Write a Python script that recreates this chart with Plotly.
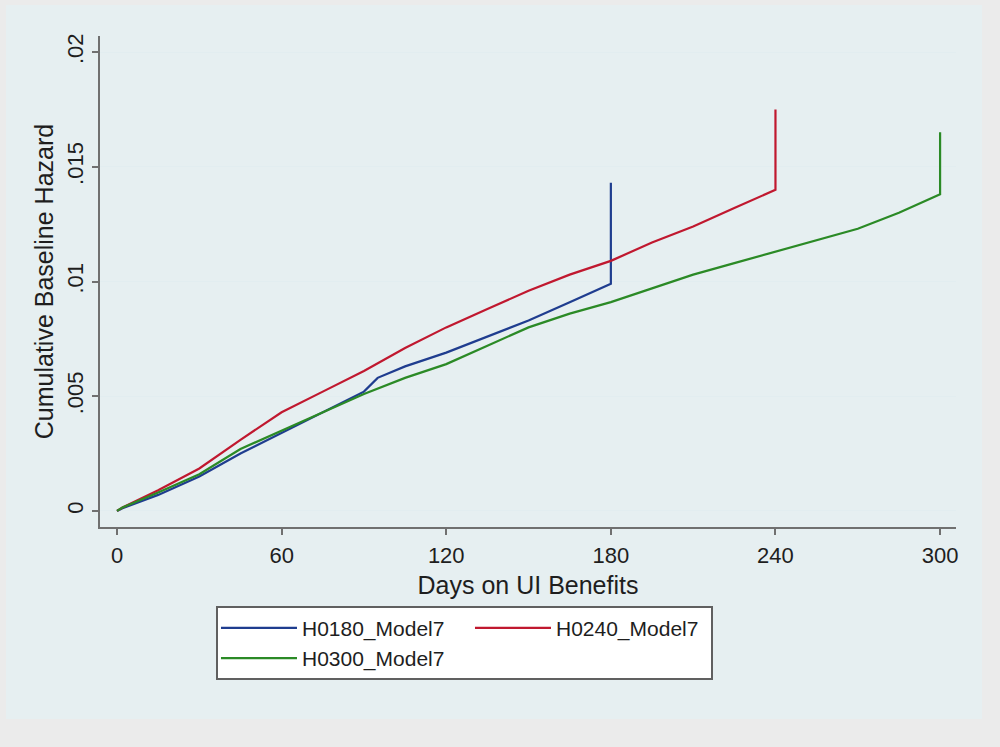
import plotly.graph_objects as go

# Cumulative baseline hazard by days on UI benefits, one curve per model
days_h0180 = [0, 2, 15, 30, 45, 60, 75, 90, 95, 105, 120, 135, 150, 165, 180, 180]
haz_h0180 = [0, 0.00012, 0.0007, 0.0015, 0.0025, 0.0034, 0.0043, 0.0052, 0.0058,
             0.0063, 0.0069, 0.0076, 0.0083, 0.0091, 0.0099, 0.0143]

days_h0240 = [0, 2, 15, 30, 45, 60, 75, 90, 105, 120, 135, 150, 165, 180, 195,
              210, 225, 240, 240]
haz_h0240 = [0, 0.00015, 0.0009, 0.00185, 0.0031, 0.0043, 0.0052, 0.0061, 0.0071,
             0.0080, 0.0088, 0.0096, 0.0103, 0.0109, 0.0117, 0.0124, 0.0132,
             0.0140, 0.0175]

days_h0300 = [0, 2, 15, 30, 45, 60, 75, 90, 105, 120, 135, 150, 165, 180, 195,
              210, 225, 240, 255, 270, 285, 300, 300]
haz_h0300 = [0, 0.00015, 0.0008, 0.0016, 0.0027, 0.0035, 0.0043, 0.0051, 0.0058,
             0.0064, 0.0072, 0.0080, 0.0086, 0.0091, 0.0097, 0.0103, 0.0108,
             0.0113, 0.0118, 0.0123, 0.0130, 0.0138, 0.0165]

series_names = ["H0180_Model7", "H0240_Model7", "H0300_Model7"]
series_colors = ["#1f3d8f", "#c0182f", "#2b8a26"]
# legend groups lay the entries out in two columns: 0180 over 0300, then 0240
series_groups = ["col1", "col2", "col1"]
legend_entry_widths = [163, 150, 163]

x_ticks = [0, 60, 120, 180, 240, 300]
y_ticks = [0, 0.005, 0.01, 0.015, 0.02]
y_tick_labels = ["0", ".005", ".01", ".015", ".02"]

fig = go.Figure()
for name, xs, ys, color, grp, lw in zip(series_names,
                                         [days_h0180, days_h0240, days_h0300],
                                         [haz_h0180, haz_h0240, haz_h0300],
                                         series_colors, series_groups,
                                         legend_entry_widths):
    fig.add_trace(go.Scatter(
        x=xs, y=ys, mode="lines", name=name, legendgroup=grp,
        legendwidth=lw,
        line=dict(color=color, width=2.2),
    ))

font_family = "Liberation Sans, Arial, sans-serif"
axis_grey = "#707070"

fig.update_layout(
    width=1000, height=747, autosize=False,
    margin=dict(l=100, r=44, t=36, b=220),
    paper_bgcolor="#ebebeb",
    plot_bgcolor="#ffffff",
    font=dict(family=font_family, color="#1e1e1e"),
    showlegend=True,
    legend=dict(
        orientation="h", traceorder="grouped",
        x=0.1355, y=-0.161, xanchor="left", yanchor="top",
        bgcolor="#ffffff", bordercolor="#606060", borderwidth=1.6,
        font=dict(size=21, family=font_family, color="#1e1e1e"),
        itemwidth=76, tracegroupgap=0,
    ),
    shapes=[dict(
        type="rect", xref="paper", yref="paper", layer="below",
        x0=-0.1098, x1=1.0304, y0=-0.391, y1=1.063,
        fillcolor="#e6eff1", line=dict(width=0),
    )],
)

fig.update_xaxes(
    range=[-6.2, 305.8], tickvals=x_ticks,
    ticks="outside", ticklen=6, tickwidth=1.5, tickcolor=axis_grey,
    showline=True, linecolor=axis_grey, linewidth=1.5,
    showgrid=False, zeroline=False,
    ticklabelstandoff=2,
    tickfont=dict(size=22, color="#1e1e1e"),
    title=dict(text="Days on UI Benefits", font=dict(size=25), standoff=9),
)
fig.update_yaxes(
    range=[-0.0007, 0.0207], tickvals=y_ticks, ticktext=y_tick_labels,
    tickangle=-90,
    ticks="outside", ticklen=6, tickwidth=1.5, tickcolor=axis_grey,
    showline=True, linecolor=axis_grey, linewidth=1.5,
    showgrid=True, gridcolor="#e2edf0", gridwidth=1.2, zeroline=False,
    tickfont=dict(size=22, color="#1e1e1e"),
    title=dict(text="Cumulative Baseline Hazard", font=dict(size=25), standoff=3),
)

fig.write_html("out.html")
